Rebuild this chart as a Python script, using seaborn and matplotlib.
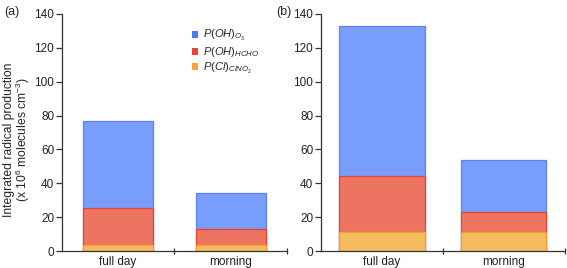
import numpy as np
import pandas as pd
import matplotlib
matplotlib.use("Agg")
import matplotlib.pyplot as plt
from matplotlib.patches import Patch
import seaborn as sns

# data (x 10^6 molecules cm^-3)
periods = ["full day", "morning"]
p_cl_clno2_a = [3.9, 3.9]
p_oh_hcho_a = [21.7, 9.1]
p_oh_o3_a = [51.3, 21.1]
p_cl_clno2_b = [11.4, 11.4]
p_oh_hcho_b = [33.2, 11.9]
p_oh_o3_b = [88.5, 30.2]
yticks = [0, 20, 40, 60, 80, 100, 120, 140]

sns.set_style("ticks")
plt.rcParams['font.family'] = ['Liberation Sans', 'DejaVu Sans']
plt.rcParams['mathtext.fontset'] = 'custom'
plt.rcParams['mathtext.rm'] = 'Liberation Sans'
plt.rcParams['mathtext.it'] = 'Liberation Sans:italic'
plt.rcParams['mathtext.bf'] = 'Liberation Sans:bold'

fills = ["#f5bc5e", "#ee7462", "#789dfb"]
edges = ["#f0a030", "#e8432f", "#5d82f5"]
legend_cols = ["#4b7cf6", "#e44631", "#f2a53b"]

fig = plt.figure(figsize=(5.67, 2.68), dpi=100)
ax_a = fig.add_axes([0.109, 0.063, 0.397, 0.885])
ax_b = fig.add_axes([0.566, 0.063, 0.430, 0.885])


def stacked(ax, cl, hcho, o3, width):
    df = pd.DataFrame({"period": periods, "cl": cl, "hcho": hcho, "o3": o3})
    df["top_hcho"] = df["cl"] + df["hcho"]
    df["top_o3"] = df["top_hcho"] + df["o3"]
    # draw cumulative heights, biggest first so the smaller ones overlay
    for col, fc, ec in zip(["top_o3", "top_hcho", "cl"], fills[::-1], edges[::-1]):
        sns.barplot(data=df, x="period", y=col, ax=ax, color=fc, saturation=1,
                    edgecolor=ec, linewidth=0.9, width=width, errorbar=None)
    ax.set_xlim(-0.5, 1.5)
    ax.set_ylim(0, 140)
    ax.set_yticks(yticks)
    ax.set_xlabel("")
    ax.set_ylabel("")
    ax.set_xticks([0.5, 1.5], minor=True)
    ax.tick_params(axis="x", which="major", length=0, labelsize=8.5, pad=3.5,
                   colors="#222222")
    ax.tick_params(axis="x", which="minor", length=5, direction="inout",
                   color="#333333", width=0.9)
    ax.tick_params(axis="y", length=4, width=0.9, labelsize=8.5, pad=1.5,
                   colors="#222222", color="#333333")
    for s in ["top", "right"]:
        ax.spines[s].set_visible(False)
    for s in ["left", "bottom"]:
        ax.spines[s].set_color("#333333")
        ax.spines[s].set_linewidth(0.9)


stacked(ax_a, p_cl_clno2_a, p_oh_hcho_a, p_oh_o3_a, 0.62)
stacked(ax_b, p_cl_clno2_b, p_oh_hcho_b, p_oh_o3_b, 0.70)

# y label placed as figure text so both lines sit where the reference has them
fig.text(0.031, 0.48,
         "Integrated radical production\n(x 10$^{6}$ molecules cm$^{-3}$)",
         fontsize=8.7, linespacing=0.95, rotation=90, ha="center", va="center",
         multialignment="center")

handles = [Patch(facecolor=c, edgecolor="none") for c in legend_cols]
labels = ["$P(OH)_{O_3}$", "$P(OH)_{HCHO}$", "$P(Cl)_{ClNO_2}$"]
ax_a.legend(handles, labels, loc="upper left", bbox_to_anchor=(0.557, 0.958),
            frameon=False, fontsize=8, handlelength=0.6, handleheight=0.6,
            handletextpad=0.45, labelspacing=0.15, borderaxespad=0)

fig.text(0.008, 0.978, "(a)", fontsize=9, va="top", ha="left")
fig.text(0.487, 0.978, "(b)", fontsize=9, va="top", ha="left")

fig.savefig("out.png", dpi=100)
